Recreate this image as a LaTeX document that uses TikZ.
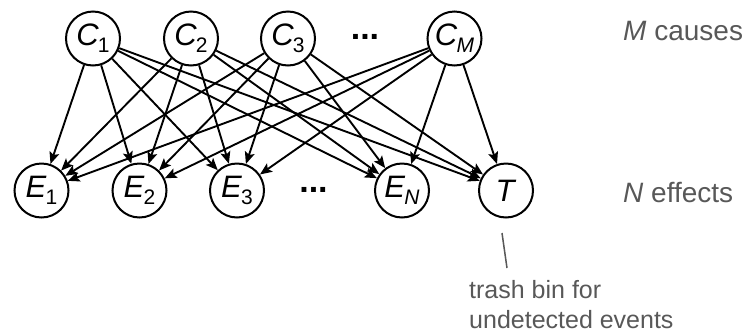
\documentclass[tikz,border=0pt]{standalone}
\usepackage{fontspec}
\setmainfont{Liberation Sans}
\usetikzlibrary{arrows.meta}
\definecolor{labelgray}{RGB}{88,88,88}
% italic variable letter with an upright (or given) subscript
\newcommand{\varsub}[2]{\textit{#1}\kern-0.03em\raisebox{-0.22em}{\fontsize{21}{21}\selectfont #2}}

\begin{document}
\begin{tikzpicture}[x=1pt,y=-1pt,
  var/.style={circle,draw,line width=2pt,minimum size=54pt,inner sep=0pt,
    font=\fontsize{31}{31}\selectfont},
  link/.style={line width=1.9pt,-{Stealth[length=12pt,width=10pt,inset=2.5pt]}},
  dotsym/.style={font=\fontsize{34}{34}\selectfont\bfseries,inner sep=0pt},
  note/.style={text=labelgray,anchor=base west,inner sep=0pt}]
\useasboundingbox (0,0) rectangle (753,333);

% causes
\node[var] (c1) at (93,38.5) {\varsub{C}{1}};
\node[var] (c2) at (191,38.5) {\varsub{C}{2}};
\node[var] (c3) at (288,38.5) {\varsub{C}{3}};
\node[dotsym] (cdots) at (365,37) {...};
\node[var] (cm) at (454.5,38.5) {\varsub{C}{\textit{M}}};

% effects and the trash bin
\node[var] (e1) at (41.5,190.5) {\varsub{E}{1}};
\node[var] (e2) at (139.5,190.5) {\varsub{E}{2}};
\node[var] (e3) at (237,190.5) {\varsub{E}{3}};
\node[dotsym] (edots) at (313.5,190) {...};
\node[var] (en) at (402,190.5) {\varsub{E}{\textit{N}}};
\node[var] (t) at (506,190.5) {\textit{T}};

% every cause can produce every effect
\foreach \c in {c1,c2,c3,cm}
  \foreach \e in {e1,e2,e3,en,t}
    \draw[link] (\c) -- (\e);

% side labels
\node[note,font=\fontsize{28}{28}\selectfont] (mlabel) at (623,40) {\textit{M} causes};
\node[note,font=\fontsize{28}{28}\selectfont] (nlabel) at (623,202) {\textit{N} effects};

% annotation of the trash bin
\coordinate (ptrtop) at (502,233);
\coordinate (ptrbot) at (507,268);
\draw[labelgray,line width=1.5pt] (ptrtop) -- (ptrbot);
\node[note,font=\fontsize{25}{25}\selectfont] (trash1) at (469,298) {trash bin for};
\node[note,font=\fontsize{25}{25}\selectfont] (trash2) at (469,328) {undetected events};
\end{tikzpicture}
\end{document}
